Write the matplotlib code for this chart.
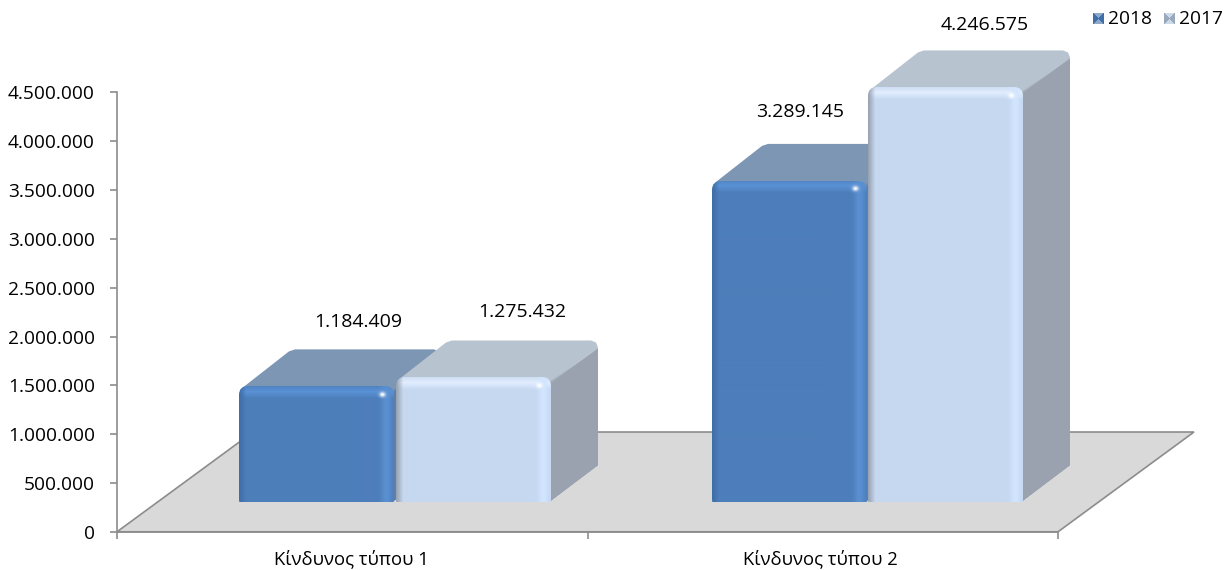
import numpy as np
import matplotlib
matplotlib.use("Agg")
import matplotlib.pyplot as plt
from matplotlib.patches import Polygon, FancyBboxPatch
from matplotlib.colors import to_rgb
from matplotlib.ticker import FuncFormatter
from matplotlib.transforms import IdentityTransform

categories = ["Κίνδυνος τύπου 1", "Κίνδυνος τύπου 2"]
series_names = ["2018", "2017"]
values_2018 = [1184409, 3289145]
values_2017 = [1275432, 4246575]
y_ticks = [0, 500000, 1000000, 1500000, 2000000, 2500000, 3000000, 3500000, 4000000, 4500000]

plt.rcParams["font.family"] = ["Open Sans", "DejaVu Sans"]
W, H = 1228, 570
fig = plt.figure(figsize=(W / 100, H / 100), dpi=100)
L, R, T, B = 117, 1058, 92.5, 531.8
ax = fig.add_axes([L / W, 1 - B / H, (R - L) / W, (B - T) / H])
ax.set_xlim(0, 2)
ax.set_ylim(0, 4500000)
for s in ("top", "right"):
    ax.spines[s].set_visible(False)
for s in ("left", "bottom"):
    ax.spines[s].set_color("#8c8c8c")
    ax.spines[s].set_linewidth(1.2)
    ax.spines[s].set_zorder(2)
ax.patch.set_alpha(0)

px = (R - L) / 2          # pixels per category
py = (B - T) / 4500000    # pixels per value unit
X = lambda p: (p - L) / px
Y = lambda p: (B - p) / py

# floor
ax.add_patch(Polygon([(X(117), Y(B)), (X(1058), Y(B)), (X(1194), Y(432)), (X(253), Y(432))],
                     closed=True, fc="#d9d9d9", ec="#8c8c8c", lw=1.2, clip_on=False, zorder=1))

ax.set_yticks(y_ticks)
ax.yaxis.set_major_formatter(FuncFormatter(lambda v, _: f"{int(v):,}".replace(",", ".")))
ax.set_xticks([0, 1, 2])
ax.set_xticklabels(["", "", ""])
ax.tick_params(axis="both", color="#8c8c8c", width=1.2, length=5, labelsize=13.8, labelcolor="black")
ax.tick_params(axis="y", pad=11)
for c, lab in zip([X(351.5), X(820)], categories):
    ax.text(c, Y(559), lab, ha="center", va="center", fontsize=13.3, color="black", clip_on=False)

base_px = 502
depth_x, depth_y = 47, 37
bar_w = 155

BLUE = dict(face="#4d7ebb", top="#7d96b4", side="#5f7fa6", hi="#5a92d6", rim="#5a90d2", left="#3f6da6")
LIGHT = dict(face="#c6d8f0", top="#b8c3d0", side="#9ba2af", hi="#e2eeff", rim="#d2e5ff", left="#98a3b3")


def face_image(w, h, st):
    base = np.array(to_rgb(st["face"]))
    img = np.ones((h, w, 3)) * base
    xs = np.arange(w)
    ys = np.arange(h)
    t = np.clip(1 - np.abs(ys - 5) / 7.0, 0, 1)[:, None, None]
    img = img * (1 - t) + np.array(to_rgb(st["hi"])) * t
    d = w - 1 - xs
    r = np.exp(-((d - 7) / 5.0) ** 2)[None, :, None]
    img = img * (1 - r) + np.array(to_rgb(st["rim"])) * r
    l = np.clip(1 - xs / 7.0, 0, 1)[None, :, None]
    img = img * (1 - l) + np.array(to_rgb(st["left"])) * l
    yy, xx = np.mgrid[0:h, 0:w]
    sp = np.exp(-(((xx - (w - 12)) / 3.0) ** 2 + ((yy - 8) / 2.5) ** 2))[:, :, None]
    img = img * (1 - sp) + sp
    return img


def draw_bar(left, value, st, z):
    top_px = base_px - value * py
    right = left + bar_w
    ax.bar(X(left), value, width=bar_w / px, bottom=Y(base_px), align="edge",
           color="none", lw=0, zorder=z + 0.2, clip_on=False)
    # top face
    ax.add_patch(Polygon([(X(left + 4), Y(top_px + 1)), (X(left + depth_x + 3), Y(top_px - depth_y + 2)),
                          (X(left + depth_x + 9), Y(top_px - depth_y)),
                          (X(right + depth_x - 7), Y(top_px - depth_y)), (X(right + depth_x - 2), Y(top_px - depth_y + 2)),
                          (X(right + depth_x), Y(top_px - depth_y + 7)),
                          (X(right + depth_x), Y(top_px + 10)), (X(left + 8), Y(top_px + 10))],
                         closed=True, fc=st["top"], ec="none", clip_on=False, zorder=z))
    # side face with a soft band towards the top face
    c_top, c_side = np.array(to_rgb(st["top"])), np.array(to_rgb(st["side"]))
    n = 6
    for i in range(n + 1):
        f = i / n
        off = 14 * (1 - f)
        ax.add_patch(Polygon([(X(right - 3), Y(top_px + 8 - off * 0.3)), (X(right + depth_x), Y(top_px - depth_y + 8 + off * 0.2)),
                              (X(right + depth_x), Y(top_px - depth_y + 8 + off * 0.2 + 18 * f)),
                              (X(right + depth_x), Y(base_px - depth_y)), (X(right - 2), Y(base_px))],
                             closed=True, fc=c_top * (1 - f) + c_side * f, ec="none", clip_on=False, zorder=z + 0.1 + i * 0.001))
    # shaded front face, clipped to a rounded rectangle in pixel space
    w, h = bar_w, int(round(base_px - top_px))
    im = ax.imshow(face_image(w, h, st), extent=(X(left), X(right), Y(base_px), Y(top_px)),
                   aspect="auto", interpolation="bilinear", origin="upper", zorder=z + 0.3)
    rr = FancyBboxPatch((left + 8, H - base_px + 2), bar_w - 16, h - 10,
                        boxstyle="round,pad=8,rounding_size=9", transform=IdentityTransform(), fc="none", ec="none")
    im.set_clip_on(True)
    im.set_clip_box(fig.bbox)
    im.set_clip_path(rr)


draw_bar(239, values_2018[0], BLUE, 3)
draw_bar(396, values_2017[0], LIGHT, 4)
draw_bar(712, values_2018[1], BLUE, 5)
draw_bar(868, values_2017[1], LIGHT, 6)
ax.set_xlim(0, 2)
ax.set_ylim(0, 4500000)
ax.set_aspect("auto")

# data labels
labels = [(358, 322, values_2018[0]), (522.5, 312, values_2017[0]), (800, 112, values_2018[1]), (985, 25, values_2017[1])]
for xp, yp, v in labels:
    ax.text(X(xp), Y(yp), f"{v:,}".replace(",", "."), ha="center", va="center", fontsize=14,
            color="black", clip_on=False, zorder=10)

# legend
for i, (cx, name, tx) in enumerate([(1098.5, series_names[0], 1108), (1169, series_names[1], 1179)]):
    side = np.array(to_rgb("#3f6fa8" if i == 0 else "#98a8bd"))
    cap = np.array(to_rgb("#8fa8c8" if i == 0 else "#ced9e8"))
    yy, xx = np.mgrid[0:11, 0:11]
    tri = (np.abs(yy - 5) <= np.abs(xx - 5)).astype(float)[:, :, None]
    img = side * tri + cap * (1 - tri)
    a = fig.add_axes([(cx - 5.5) / W, 1 - 24 / H, 11 / W, 11 / H])
    a.imshow(img, interpolation="bilinear", aspect="auto")
    a.axis("off")
    fig.text(tx / W, 1 - 18.5 / H, name, ha="left", va="center", fontsize=13.8, color="black")

fig.savefig("out.png", dpi=100)
